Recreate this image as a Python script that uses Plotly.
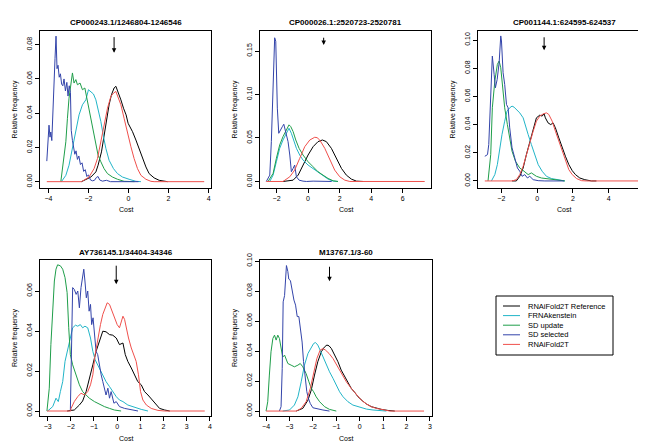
import plotly.graph_objects as go

W, H = 646, 442

series_names = ["RNAiFold2T Reference", "FRNAkenstein", "SD update", "SD selected", "RNAiFold2T"]
series_colors = ["#000000", "#22B5C8", "#1F9E4A", "#3344AA", "#F0504C"]

titles = ["CP000243.1/1246804-1246546", "CP000026.1:2520723-2520781",
          "CP001144.1:624595-624537", "AY736145.1/34404-34346", "M13767.1/3-60"]

# ---------------- Panel 1 ----------------
p1_ref_x = [-2.35, -1.88, -1.63, -1.52, -1.35, -1.22, -1.08, -0.97, -0.85, -0.72, -0.63, -0.52, -0.38, -0.25, -0.12, -0.02, 0.08, 0.2, 0.37, 0.53, 0.7, 0.87, 1.03, 1.28, 1.53, 1.78, 1.95]
p1_ref_y = [0, 0.0027, 0.0057, 0.0096, 0.0174, 0.0272, 0.037, 0.0449, 0.0508, 0.0547, 0.0557, 0.0527, 0.0478, 0.0429, 0.039, 0.0341, 0.0321, 0.0292, 0.0243, 0.0194, 0.0135, 0.0086, 0.0047, 0.0022, 0.0008, 0.0002, 0]
p1_frn_x = [-3.35, -3.13, -2.97, -2.8, -2.63, -2.47, -2.3, -2.13, -2.0, -1.88, -1.75, -1.63, -1.52, -1.38, -1.25, -1.13, -0.97, -0.75, -0.55, -0.3, 0.03, 0.37, 0.62]
p1_frn_y = [0, 0.0037, 0.0096, 0.0194, 0.0312, 0.039, 0.0449, 0.0478, 0.0537, 0.0527, 0.0512, 0.0478, 0.0429, 0.0351, 0.0263, 0.0194, 0.0125, 0.0076, 0.0047, 0.0027, 0.0014, 0.0002, 0]
p1_sdu_x = [-3.38, -3.13, -3.05, -2.97, -2.8, -2.72, -2.63, -2.55, -2.42, -2.3, -2.18, -2.05, -1.88, -1.75, -1.63, -1.52, -1.38, -1.22, -1.05, -0.8, -0.55, -0.22, 0.3]
p1_sdu_y = [0, 0.0233, 0.037, 0.0488, 0.0635, 0.0576, 0.0596, 0.0566, 0.0576, 0.0537, 0.0547, 0.0468, 0.037, 0.0272, 0.0214, 0.0155, 0.0116, 0.0076, 0.0047, 0.0027, 0.0014, 0.0002, 0]
p1_sds_x = [-4.08, -4.02, -3.97, -3.92, -3.88, -3.83, -3.77, -3.72, -3.67, -3.62, -3.57, -3.52, -3.46, -3.40, -3.34, -3.28, -3.22, -3.15, -3.08, -3.02, -2.96, -2.90, -2.86, -2.80, -2.74, -2.68, -2.62, -2.55, -2.48, -2.40, -2.32, -2.24, -2.16, -2.08, -2.00, -1.90, -1.80, -1.70, -1.60, -1.52, -1.44, -1.30, -1.1, -0.9, 0.5]
p1_sds_y = [0.012, 0.022, 0.033, 0.026, 0.029, 0.024, 0.045, 0.065, 0.072, 0.085, 0.066, 0.068, 0.061, 0.063, 0.057, 0.056, 0.060, 0.053, 0.058, 0.050, 0.056, 0.052, 0.030, 0.024, 0.020, 0.016, 0.018, 0.013, 0.015, 0.010, 0.011, 0.006, 0.007, 0.003, 0.004, 0.001, 0.0005, 0.0008, 0.0025, 0.003, 0.001, 0.0003, 0.0008, 0.0, 0.0]
p1_rna_x = [-4.08, -2.35, -1.97, -1.72, -1.55, -1.38, -1.22, -1.05, -0.88, -0.75, -0.63, -0.52, -0.38, -0.22, -0.05, 0.12, 0.28, 0.45, 0.62, 0.87, 1.12, 1.28, 3.78]
p1_rna_y = [0, 0, 0.0027, 0.0076, 0.0135, 0.0233, 0.0331, 0.0429, 0.0498, 0.0517, 0.0527, 0.0488, 0.0449, 0.037, 0.0282, 0.0204, 0.0135, 0.0076, 0.0037, 0.0014, 0.0002, 0, 0]

# ---------------- Panel 2 ----------------
p2_ref_x = [-1.59, -0.95, -0.63, -0.32, 0, 0.32, 0.63, 0.91, 1.16, 1.48, 1.8, 2.12, 2.43, 2.75, 3.07, 3.49]
p2_ref_y = [0, 0.0015, 0.0073, 0.0189, 0.0304, 0.04, 0.0458, 0.0477, 0.0458, 0.0381, 0.0266, 0.015, 0.0073, 0.0027, 0.0004, 0]
p2_frn_x = [-2.43, -2.22, -2.01, -1.8, -1.59, -1.38, -1.21, -1.06, -0.91, -0.74, -0.53, -0.32, 0, 0.32, 0.63, 0.95, 1.27, 1.59, 1.9]
p2_frn_y = [0, 0.0073, 0.0227, 0.0381, 0.0477, 0.0554, 0.0612, 0.0554, 0.0458, 0.0381, 0.0304, 0.0246, 0.0189, 0.015, 0.0104, 0.0065, 0.0027, 0.0004, 0]
p2_sdu_x = [-2.54, -2.22, -2.01, -1.8, -1.59, -1.38, -1.21, -1.1, -0.95, -0.78, -0.57, -0.32, 0, 0.32, 0.63, 0.95, 1.27, 1.59, 1.9]
p2_sdu_y = [0, 0.0092, 0.0266, 0.042, 0.0516, 0.0593, 0.0651, 0.0631, 0.0574, 0.0477, 0.0381, 0.0304, 0.0227, 0.0169, 0.0112, 0.0073, 0.0035, 0.0008, 0]
p2_sds_x = [-2.65, -2.43, -2.33, -2.22, -2.12, -2.05, -2.01, -1.95, -1.86, -1.76, -1.63, -1.54, -1.42, -1.27, -1.16, -1.06, -0.95, -0.85, -0.74, -0.57, -0.32, -0.1, 0.32, 0.74, 1.5]
p2_sds_y = [0, 0.0073, 0.0458, 0.1036, 0.1652, 0.1613, 0.1305, 0.0843, 0.0554, 0.0593, 0.0631, 0.0658, 0.0554, 0.0458, 0.0304, 0.0112, 0.015, 0.0189, 0.0054, 0.0015, 0.0004, 0, 0.0004, 0, 0]
p2_rna_x = [-2.65, -1.59, -1.16, -0.85, -0.53, -0.21, 0.11, 0.42, 0.57, 0.74, 1.06, 1.38, 1.69, 2.01, 2.33, 2.65, 7.4]
p2_rna_y = [0, 0, 0.0054, 0.0131, 0.0266, 0.04, 0.0477, 0.0508, 0.0504, 0.0477, 0.0381, 0.0246, 0.0131, 0.0054, 0.0015, 0, 0]

# ---------------- Panel 3 ----------------
p3_ref_x = [-1.4, -1.16, -0.97, -0.78, -0.6, -0.41, -0.22, -0.04, 0.15, 0.28, 0.39, 0.46, 0.61, 0.76, 0.89, 1.02, 1.21, 1.4, 1.58, 1.77, 1.96, 2.14, 2.38, 2.66, 3.03, 3.31]
p3_ref_y = [0, 0, 0.0033, 0.0092, 0.0187, 0.0282, 0.0377, 0.0448, 0.0467, 0.046, 0.0476, 0.0448, 0.0412, 0.04, 0.0412, 0.0377, 0.0306, 0.0235, 0.0175, 0.0116, 0.0073, 0.0045, 0.0021, 0.0009, 0, 0]
p3_frn_x = [-2.55, -2.36, -2.22, -2.09, -1.96, -1.81, -1.68, -1.53, -1.4, -1.29, -1.15, -0.97, -0.78, -0.65, -0.5, -0.32, -0.13, 0.06, 0.28, 0.52, 0.8, 1.08, 1.36, 1.55]
p3_frn_y = [0, 0.0045, 0.0116, 0.0235, 0.033, 0.0424, 0.0495, 0.0519, 0.0531, 0.0524, 0.0507, 0.0483, 0.0448, 0.04, 0.0329, 0.0258, 0.0187, 0.0116, 0.0069, 0.0033, 0.0017, 0.0009, 0.0002, 0]
p3_sdu_x = [-2.74, -2.59, -2.5, -2.36, -2.22, -2.12, -2.03, -1.9, -1.81, -1.66, -1.53, -1.4, -1.21, -0.97, -0.73, -0.5, -0.32, -0.04, 0.24, 0.61, 0.98, 1.36, 1.55]
p3_sdu_y = [0, 0.0187, 0.0519, 0.0709, 0.0827, 0.0851, 0.0803, 0.0638, 0.0519, 0.04, 0.0306, 0.0211, 0.014, 0.0092, 0.0069, 0.0045, 0.0057, 0.0033, 0.0021, 0.0014, 0.0007, 0.0002, 0]
p3_sds_x = [-2.92, -2.77, -2.7, -2.59, -2.5, -2.4, -2.33, -2.23, -2.12, -2.03, -1.99, -1.9, -1.81, -1.71, -1.62, -1.53, -1.4, -1.25, -1.1, -0.97, -0.84, -0.69, -0.54, -0.41, -0.22, 0.06, 0.43, 1.5]
p3_sds_y = [0.0175, 0.0187, 0.0258, 0.0685, 0.0886, 0.0756, 0.0661, 0.072, 0.0839, 0.1029, 0.0993, 0.0768, 0.0685, 0.0543, 0.0519, 0.0377, 0.0235, 0.0164, 0.0092, 0.0069, 0.0033, 0.0045, 0.0021, 0.0033, 0.0009, 0.0002, 0, 0]
p3_rna_x = [-2.92, -1.4, -1.16, -0.97, -0.78, -0.6, -0.41, -0.22, -0.04, 0.15, 0.34, 0.52, 0.65, 0.84, 1.02, 1.21, 1.4, 1.58, 1.77, 1.96, 2.2, 2.48, 2.76, 5.87]
p3_rna_y = [0, 0, 0.0009, 0.0045, 0.0104, 0.0187, 0.0282, 0.0353, 0.0424, 0.046, 0.0476, 0.0483, 0.0472, 0.0424, 0.0353, 0.0282, 0.0211, 0.014, 0.008, 0.0045, 0.0017, 0.0002, 0, 0]

# ---------------- Panel 4 ----------------
p4_ref_x = [-2.16, -1.85, -1.63, -1.49, -1.34, -1.2, -1.05, -0.91, -0.76, -0.62, -0.48, -0.33, -0.19, -0.04, 0.1, 0.25, 0.35, 0.46, 0.61, 0.75, 0.89, 1.04, 1.18, 1.33, 1.47, 1.62, 1.83, 2.05, 2.27]
p4_ref_y = [0, 0.0005, 0.003, 0.005, 0.0097, 0.0156, 0.0231, 0.0298, 0.0349, 0.0399, 0.0396, 0.0382, 0.0379, 0.0365, 0.0332, 0.034, 0.0282, 0.0248, 0.0215, 0.0181, 0.0147, 0.0131, 0.0097, 0.008, 0.006, 0.0039, 0.0013, 0.0005, 0]
p4_frn_x = [-3.0, -2.78, -2.64, -2.54, -2.45, -2.35, -2.25, -2.14, -2.02, -1.92, -1.8, -1.7, -1.59, -1.49, -1.39, -1.27, -1.15, -1.05, -0.95, -0.84, -0.72, -0.62, -0.48, -0.33, -0.19, -0.04, 0.1, 0.25, 0.46, 0.75, 1.04, 1.33]
p4_frn_y = [0, 0.0022, 0.0064, 0.0047, 0.0097, 0.0147, 0.0248, 0.0307, 0.0365, 0.0416, 0.0429, 0.0424, 0.0432, 0.0416, 0.0424, 0.0416, 0.0365, 0.0298, 0.0256, 0.0231, 0.0206, 0.0181, 0.0147, 0.0122, 0.0097, 0.0072, 0.0055, 0.0047, 0.003, 0.0017, 0.0008, 0]
p4_sdu_x = [-3.03, -2.93, -2.86, -2.78, -2.71, -2.64, -2.57, -2.45, -2.35, -2.25, -2.16, -2.09, -2.02, -1.92, -1.77, -1.63, -1.49, -1.34, -1.2, -0.98, -0.76, -0.55, -0.33, -0.12, 0.17]
p4_sdu_y = [0, 0.0114, 0.0332, 0.0516, 0.065, 0.0709, 0.0731, 0.0726, 0.0709, 0.0667, 0.0592, 0.0416, 0.0282, 0.0231, 0.0181, 0.0131, 0.0097, 0.008, 0.0064, 0.0047, 0.0034, 0.0022, 0.0013, 0.0005, 0]
p4_sds_x = [-2.02, -1.99, -1.96, -1.92, -1.85, -1.77, -1.7, -1.63, -1.56, -1.49, -1.44, -1.39, -1.33, -1.27, -1.21, -1.15, -1.1, -1.04, -0.98, -0.91, -0.84, -0.76, -0.69, -0.62, -0.55, -0.48, -0.4, -0.33, -0.26, -0.14, -0.04, 0.1, 0.32, 0.61, 0.9]
p4_sds_y = [0, 0.0181, 0.0416, 0.0617, 0.0608, 0.0583, 0.06, 0.0516, 0.0617, 0.0667, 0.0709, 0.065, 0.0566, 0.06, 0.0499, 0.0533, 0.0432, 0.0466, 0.0382, 0.0298, 0.0282, 0.0215, 0.0181, 0.0147, 0.0114, 0.008, 0.0114, 0.0064, 0.0097, 0.0039, 0.0047, 0.0022, 0.0013, 0.0005, 0]
p4_rna_x = [-3.03, -2.0, -1.99, -1.85, -1.7, -1.56, -1.41, -1.27, -1.15, -1.05, -0.95, -0.84, -0.72, -0.62, -0.52, -0.43, -0.33, -0.23, -0.12, 0.0, 0.1, 0.17, 0.25, 0.32, 0.39, 0.49, 0.61, 0.72, 0.82, 0.92, 1.01, 1.11, 1.26, 1.47, 1.76, 2.05, 3.78]
p4_rna_y = [0, 0, 0.0013, 0.0047, 0.0072, 0.0089, 0.008, 0.0097, 0.0131, 0.0181, 0.0282, 0.0365, 0.0432, 0.0483, 0.0516, 0.0541, 0.0533, 0.0499, 0.0466, 0.0432, 0.0416, 0.0441, 0.0474, 0.0458, 0.0416, 0.0365, 0.0315, 0.0282, 0.0248, 0.0181, 0.0097, 0.0055, 0.003, 0.0013, 0.0003, 0, 0]

# ---------------- Panel 5 ----------------
p5_ref_x = [-2.71, -2.43, -2.21, -2.07, -1.93, -1.79, -1.64, -1.5, -1.4, -1.31, -1.21, -1.07, -0.93, -0.79, -0.64, -0.5, -0.36, -0.21, -0.07, 0.11, 0.29, 0.5, 0.71, 0.93, 1.21, 1.5]
p5_ref_y = [0, 0.0018, 0.0073, 0.014, 0.024, 0.0329, 0.0395, 0.0428, 0.044, 0.0435, 0.0417, 0.0373, 0.0329, 0.0273, 0.0229, 0.0184, 0.0151, 0.0124, 0.0095, 0.0069, 0.0047, 0.0029, 0.0018, 0.0011, 0.0004, 0]
p5_frn_x = [-3.29, -3.0, -2.79, -2.64, -2.5, -2.36, -2.21, -2.07, -1.97, -1.89, -1.79, -1.69, -1.57, -1.43, -1.29, -1.14, -1.0, -0.86, -0.71, -0.5, -0.29, 0, 0.29, 0.57, 0.86, 1.14]
p5_frn_y = [0, 0.0007, 0.004, 0.0095, 0.0195, 0.0306, 0.0384, 0.0428, 0.045, 0.0457, 0.044, 0.0406, 0.036, 0.0306, 0.0262, 0.0218, 0.0173, 0.0129, 0.0095, 0.0062, 0.004, 0.0024, 0.0013, 0.0007, 0.0002, 0]
p5_sdu_x = [-4.0, -3.93, -3.86, -3.79, -3.71, -3.64, -3.57, -3.5, -3.43, -3.36, -3.29, -3.21, -3.14, -3.07, -2.93, -2.79, -2.64, -2.54, -2.43, -2.29, -2.17, -2.07, -1.97, -1.86, -1.71, -1.5, -1.29, -1.0]
p5_sdu_y = [0, 0.0062, 0.024, 0.0395, 0.0484, 0.0506, 0.0473, 0.0506, 0.0484, 0.0406, 0.036, 0.0373, 0.035, 0.0317, 0.0306, 0.0295, 0.0306, 0.0317, 0.0295, 0.025, 0.0195, 0.0151, 0.0129, 0.0095, 0.0062, 0.0029, 0.0011, 0]
p5_sds_x = [-3.43, -3.36, -3.31, -3.27, -3.21, -3.17, -3.13, -3.07, -3.03, -2.96, -2.89, -2.81, -2.74, -2.67, -2.6, -2.53, -2.46, -2.4, -2.33, -2.26, -2.19, -2.11, -2.0, -1.79, -1.57, -1.29]
p5_sds_y = [0, 0.0029, 0.0284, 0.0728, 0.077, 0.0906, 0.097, 0.093, 0.088, 0.087, 0.08, 0.074, 0.0706, 0.063, 0.063, 0.055, 0.046, 0.033, 0.022, 0.0129, 0.0084, 0.005, 0.0022, 0.0013, 0.0007, 0]
p5_rna_x = [-4.0, -2.71, -2.5, -2.29, -2.11, -1.97, -1.83, -1.69, -1.57, -1.46, -1.31, -1.14, -0.97, -0.79, -0.57, -0.36, -0.14, 0.07, 0.29, 0.5, 0.71, 1.0, 1.29, 2.75]
p5_rna_y = [0, 0, 0.0018, 0.0062, 0.0151, 0.0262, 0.035, 0.0406, 0.0417, 0.0406, 0.0384, 0.035, 0.0306, 0.025, 0.0195, 0.0151, 0.0107, 0.0073, 0.0047, 0.0029, 0.0018, 0.0007, 0, 0]

# arrow markers (x position, tail y, tip y)
arrow_x = [-0.72, 0.99, 0.39, -0.04, -1.29]
arrow_tail_y = [0.0853, 0.167, 0.103, 0.0734, 0.0972]
arrow_tip_y = [0.0753, 0.157, 0.0927, 0.0634, 0.0866]

# axis ticks
x_ticks = [[-4, -2, 0, 2, 4], [-2, 0, 2, 4, 6], [-2, 0, 2, 4, 6],
           [-3, -2, -1, 0, 1, 2, 3, 4], [-4, -3, -2, -1, 0, 1, 2, 3]]
y_ticks = [[0, 0.02, 0.04, 0.06, 0.08], [0, 0.05, 0.10, 0.15],
           [0, 0.02, 0.04, 0.06, 0.08, 0.10], [0, 0.02, 0.04, 0.06],
           [0, 0.02, 0.04, 0.06, 0.08, 0.10]]
y_ticktext = [["0.00", "0.02", "0.04", "0.06", "0.08"], ["0.00", "0.05", "0.10", "0.15"],
              ["0.00", "0.02", "0.04", "0.06", "0.08", "0.10"], ["0.00", "0.02", "0.04", "0.06"],
              ["0.00", "0.02", "0.04", "0.06", "0.08", "0.10"]]

panels = [
    [(p1_ref_x, p1_ref_y), (p1_frn_x, p1_frn_y), (p1_sdu_x, p1_sdu_y), (p1_sds_x, p1_sds_y), (p1_rna_x, p1_rna_y)],
    [(p2_ref_x, p2_ref_y), (p2_frn_x, p2_frn_y), (p2_sdu_x, p2_sdu_y), (p2_sds_x, p2_sds_y), (p2_rna_x, p2_rna_y)],
    [(p3_ref_x, p3_ref_y), (p3_frn_x, p3_frn_y), (p3_sdu_x, p3_sdu_y), (p3_sds_x, p3_sds_y), (p3_rna_x, p3_rna_y)],
    [(p4_ref_x, p4_ref_y), (p4_frn_x, p4_frn_y), (p4_sdu_x, p4_sdu_y), (p4_sds_x, p4_sds_y), (p4_rna_x, p4_rna_y)],
    [(p5_ref_x, p5_ref_y), (p5_frn_x, p5_frn_y), (p5_sdu_x, p5_sdu_y), (p5_sds_x, p5_sds_y), (p5_rna_x, p5_rna_y)],
]

# ---------- layout geometry (pixels) ----------
boxes = [(32, 203, 23, 180), (252, 423, 23, 180), (470, 642, 23, 180),
         (32, 203, 252, 408), (252, 424, 252, 408)]
x_ranges = [[-4.42, 4.12], [-3.05, 7.8], [-3.3, 6.3], [-3.33, 4.05], [-4.26, 3.09]]
y_ranges = [[-0.0037, 0.088], [-0.0075, 0.173], [-0.005, 0.1064], [-0.0025, 0.0755], [-0.0033, 0.1007]]

FONT = "Liberation Sans, Arial, Helvetica, sans-serif"

fig = go.Figure()
layout = dict(width=W, height=H, margin=dict(l=0, r=0, t=0, b=0),
              paper_bgcolor="white", plot_bgcolor="white", showlegend=False,
              font=dict(family=FONT, size=7, color="black"))
annotations = []
shapes = []

for i, series in enumerate(panels):
    k = "" if i == 0 else str(i + 1)
    xa, ya = "x" + k, "y" + k
    for j, (xs, ys) in enumerate(series):
        fig.add_trace(go.Scatter(x=xs, y=ys, mode="lines", xaxis=xa, yaxis=ya,
                                 name=series_names[j], showlegend=False,
                                 line=dict(color=series_colors[j], width=1)))
    l, r, t, b = boxes[i]
    layout["xaxis" + k] = dict(domain=[l / W, r / W], range=x_ranges[i], anchor=ya,
                               tickvals=x_ticks[i], ticks="outside", ticklen=4,
                               tickwidth=1, tickcolor="black", showline=True,
                               linecolor="black", linewidth=1, mirror=True,
                               showgrid=False, zeroline=False,
                               tickfont=dict(size=7), automargin=False)
    layout["yaxis" + k] = dict(domain=[1 - b / H, 1 - t / H], range=y_ranges[i], anchor=xa,
                               tickvals=y_ticks[i], ticktext=y_ticktext[i],
                               ticks="outside", ticklen=4, tickangle=-90,
                               tickwidth=1, tickcolor="black", showline=True,
                               linecolor="black", linewidth=1, mirror=True,
                               showgrid=False, zeroline=False,
                               tickfont=dict(size=7), automargin=False)
    cx = (l + r) / 2 / W
    annotations.append(dict(text="<b>" + titles[i] + "</b>", x=cx, y=1 - (t - 8) / H,
                            xref="paper", yref="paper", showarrow=False,
                            font=dict(size=8), xanchor="center", yanchor="middle"))
    annotations.append(dict(text="Cost", x=cx, y=1 - (b + 22) / H, xref="paper", yref="paper",
                            showarrow=False, font=dict(size=7), xanchor="center", yanchor="middle"))
    annotations.append(dict(text="Relative frequency", x=(l - 25) / W, y=1 - (t + b) / 2 / H,
                            xref="paper", yref="paper", showarrow=False, textangle=-90,
                            font=dict(size=7), xanchor="center", yanchor="middle"))
    annotations.append(dict(x=arrow_x[i], y=arrow_tip_y[i], ax=arrow_x[i], ay=arrow_tail_y[i],
                            xref=xa, yref=ya, axref=xa, ayref=ya, text="", showarrow=True,
                            arrowhead=2, arrowsize=0.9, arrowwidth=1, arrowcolor="black"))

# ---------- legend (drawn as a key box) ----------
leg_l, leg_r, leg_t, leg_b = 488, 605, 288, 347
shapes.append(dict(type="rect", xref="paper", yref="paper",
                   x0=leg_l / W, x1=leg_r / W, y0=1 - leg_b / H, y1=1 - leg_t / H,
                   line=dict(color="black", width=1), fillcolor="white", layer="below"))
for j, name in enumerate(series_names):
    yy = 298 + j * 9.6
    shapes.append(dict(type="line", xref="paper", yref="paper",
                       x0=495 / W, x1=512 / W, y0=1 - yy / H, y1=1 - yy / H,
                       line=dict(color=series_colors[j], width=1)))
    annotations.append(dict(text=name, x=518 / W, y=1 - yy / H, xref="paper", yref="paper",
                            showarrow=False, xanchor="left", yanchor="middle",
                            font=dict(size=7.5)))

layout["annotations"] = annotations
layout["shapes"] = shapes
fig.update_layout(**layout)
fig.write_html("out.html")
